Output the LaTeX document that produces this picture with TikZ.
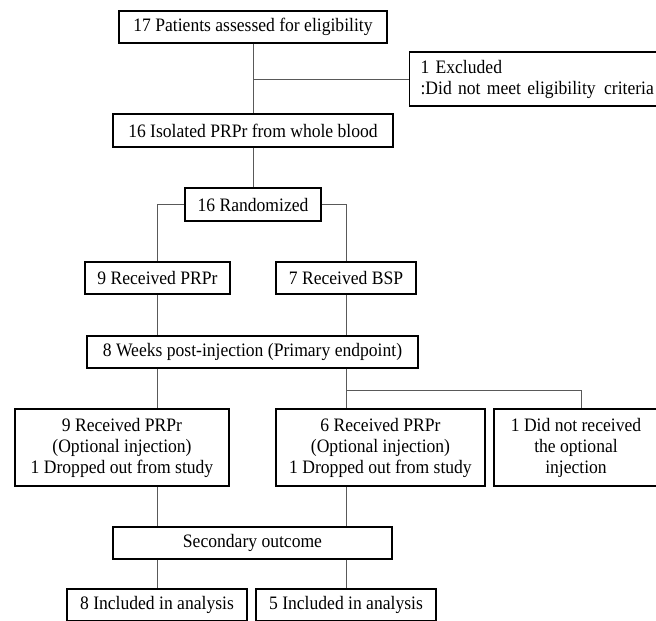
\documentclass[tikz,border=0pt]{standalone}
\usepackage{fontspec}
\setmainfont{Liberation Serif}[FakeStretch=0.925]
\begin{document}
\begin{tikzpicture}[x=1pt,y=-1pt,
  box/.style={draw=black, line width=1.1pt, inner sep=0pt, align=center,
    font=\fontsize{19}{21}\selectfont},
  conn/.style={draw=black!65, line width=0.8pt}]
\clip (0,0) rectangle (656,621);
\useasboundingbox (0,0) rectangle (656,621);
\fill[white] (0,0) rectangle (656,621);

\node[box, minimum width=268pt, minimum height=32pt] (n1) at (253,27) {17 Patients assessed for eligibility};
\node[box, anchor=west, minimum width=262pt, minimum height=54pt, align=left, inner xsep=11pt, text width=240pt] (ex) at (409,79) {1 Excluded\\:Did not meet eligibility\hspace{2pt} criteria};
\node[box, minimum width=280pt, minimum height=33pt] (n2) at (253,130.5) {16 Isolated PRPr from whole blood};
\node[box, minimum width=136pt, minimum height=33pt] (rand) at (253,204.5) {16 Randomized};
\node[box, minimum width=145pt, minimum height=32pt] (prp) at (157.5,278) {9 Received PRPr};
\node[box, minimum width=140pt, minimum height=32pt] (bsp) at (346,278) {7 Received BSP};
\node[box, minimum width=331pt, minimum height=32pt] (wk) at (252.5,352) {8 Weeks post-injection (Primary endpoint)};
\node[box, minimum width=214pt, minimum height=77pt] (opt1) at (122,447.5) {9 Received PRPr\\(Optional injection)\\1 Dropped out from study};
\node[box, minimum width=209pt, minimum height=77pt] (opt2) at (380.5,447.5) {6 Received PRPr\\(Optional injection)\\1 Dropped out from study};
\node[box, minimum width=164pt, minimum height=77pt] (nr) at (576,447.5) {1 Did not received\\the optional\\injection};
\node[box, minimum width=279pt, minimum height=32pt] (sec) at (252.5,543) {Secondary outcome};
\node[box, minimum width=180pt, minimum height=32pt] (inc1) at (157,605) {8 Included in analysis};
\node[box, minimum width=180pt, minimum height=32pt] (inc2) at (346,605) {5 Included in analysis};

\coordinate (j1) at (253,79);
\coordinate (lx) at (157.7,0);
\coordinate (rx) at (346,0);
\coordinate (j2) at (346,390);
\coordinate (j3) at (581,390);

\draw[conn] (n1.south) -- (n2.north);
\draw[conn] (j1) -- (ex.west);
\draw[conn] (n2.south) -- (rand.north);
\draw[conn] (rand.west) -| (prp.north -| lx);
\draw[conn] (rand.east) -| (bsp.north -| rx);
\draw[conn] (prp.south -| lx) -- (wk.north -| lx);
\draw[conn] (bsp.south -| rx) -- (wk.north -| rx);
\draw[conn] (wk.south -| lx) -- (opt1.north -| lx);
\draw[conn] (wk.south -| rx) -- (opt2.north -| rx);
\draw[conn] (j2) -- (j3) -- (nr.north -| j3);
\draw[conn] (opt1.south -| lx) -- (sec.north -| lx);
\draw[conn] (opt2.south -| rx) -- (sec.north -| rx);
\draw[conn] (sec.south -| lx) -- (inc1.north -| lx);
\draw[conn] (sec.south -| rx) -- (inc2.north -| rx);
\end{tikzpicture}
\end{document}
